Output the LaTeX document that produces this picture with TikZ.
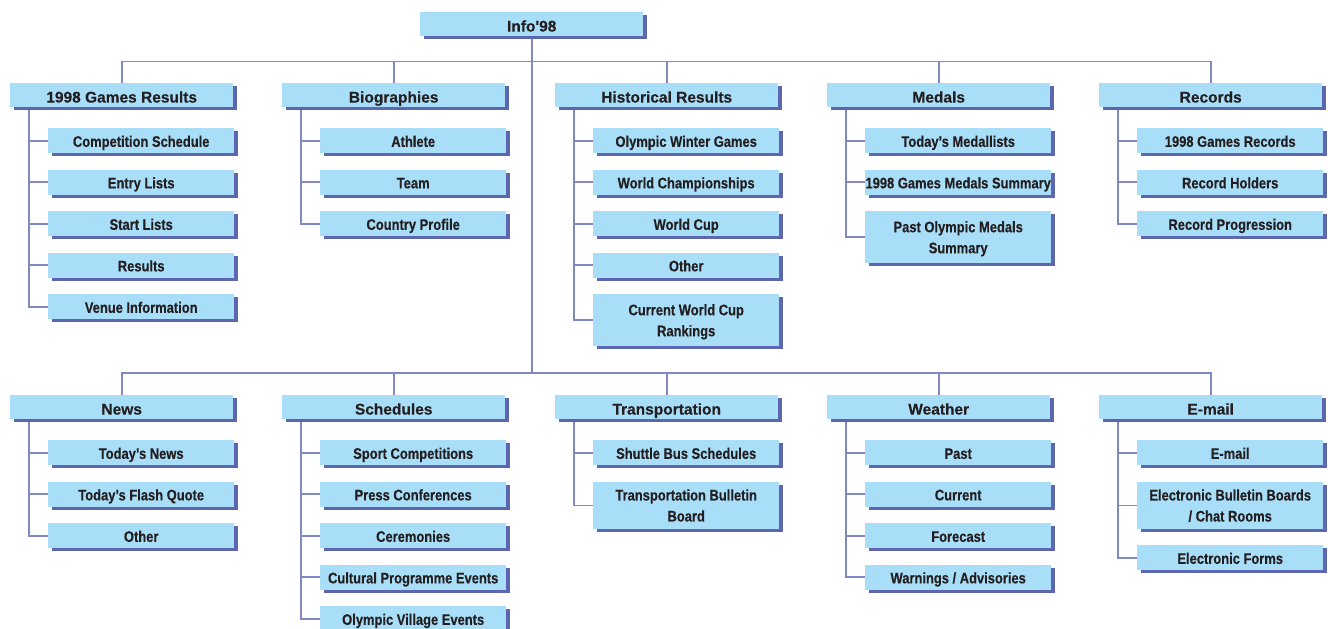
\documentclass[tikz,border=0pt]{standalone}
\usepackage{fontspec}
\setmainfont{Liberation Sans}
\newfontfamily\headsans{Liberation Sans}[FakeBold=0.25]
\newfontfamily\narrowsans{Liberation Sans}[FakeStretch=0.845,FakeBold=0.3]
\usetikzlibrary{calc,shadows,backgrounds}

\definecolor{boxfill}{HTML}{A9DEF9}
\definecolor{boxshade}{HTML}{5D67B1}
\definecolor{wirec}{HTML}{8188C4}
\definecolor{ink}{HTML}{231F20}

% a straight apostrophe, set as the glyph itself
\newcommand\upquote{\XeTeXglyph\XeTeXcharglyph"0027\relax}

\tikzset{
  basebox/.style={fill=boxfill, text=ink, inner sep=0pt, anchor=north west,
    align=center,
    drop shadow={shadow xshift=3.5pt, shadow yshift=-3pt, fill=boxshade, opacity=1}},
  hdr/.style={basebox, minimum width=223pt, minimum height=24pt,
    text height=15pt, text depth=0.3pt,
    font=\headsans\fontsize{15.5}{21}\selectfont\bfseries},
  kidtwo/.style={basebox, minimum width=186pt, text depth=0pt,
    font=\narrowsans\fontsize{15.3}{21}\selectfont\bfseries},
  kid/.style={kidtwo, minimum height=25pt, text height=13pt, text depth=0.7pt},
  wire/.style={draw=wirec, line width=1.6pt}
}

% one-line child item: name, left x, top y, label
\newcommand\kidbox[4]{\node[kid] (#1) at (#2,#3) {#4};}
% two-line child item: name, left x, top y, height, label
\newcommand\kidboxtwo[5]{\node[kidtwo, minimum height=#4pt] (#1) at (#2,#3) {#5};}
% connector from a heading down its branch line to a child
\newcommand\hang[2]{\draw[wire] ($(#1.south west)+(19pt,0pt)$) |- (#2.west);}

\begin{document}
\begin{tikzpicture}[x=1pt,y=-1pt]
\useasboundingbox (0,0) rectangle (1328,629);

% root
\node[hdr] (info) at (420,12) {Info\upquote98};

% upper headings
\node[hdr] (gr)  at (10,83)   {1998 Games Results};
\node[hdr] (bio) at (282,83)  {Biographies};
\node[hdr] (his) at (555,83)  {Historical Results};
\node[hdr] (med) at (827,83)  {Medals};
\node[hdr] (rec) at (1099,83) {Records};

% lower headings
\node[hdr] (nws) at (10,395)   {News};
\node[hdr] (sch) at (282,395)  {Schedules};
\node[hdr] (trn) at (555,395)  {Transportation};
\node[hdr] (wea) at (827,395)  {Weather};
\node[hdr] (eml) at (1099,395) {E-mail};

% 1998 Games Results
\kidbox{gr1}{48}{128}{Competition Schedule}
\kidbox{gr2}{48}{169.5}{Entry Lists}
\kidbox{gr3}{48}{211}{Start Lists}
\kidbox{gr4}{48}{252.5}{Results}
\kidbox{gr5}{48}{294}{Venue Information}

% Biographies
\kidbox{bio1}{320}{128}{Athlete}
\kidbox{bio2}{320}{169.5}{Team}
\kidbox{bio3}{320}{211}{Country Profile}

% Historical Results
\kidbox{his1}{593}{128}{Olympic Winter Games}
\kidbox{his2}{593}{169.5}{World Championships}
\kidbox{his3}{593}{211}{World Cup}
\kidbox{his4}{593}{252.5}{Other}
\kidboxtwo{his5}{593}{294}{52}{Current World Cup\\Rankings}

% Medals
\kidbox{med1}{865}{128}{Today’s Medallists}
\kidbox{med2}{865}{169.5}{1998 Games Medals Summary}
\kidboxtwo{med3}{865}{211}{52}{Past Olympic Medals\\Summary}

% Records
\kidbox{rec1}{1137}{128}{1998 Games Records}
\kidbox{rec2}{1137}{169.5}{Record Holders}
\kidbox{rec3}{1137}{211}{Record Progression}

% News
\kidbox{nws1}{48}{440}{Today’s News}
\kidbox{nws2}{48}{481.5}{Today’s Flash Quote}
\kidbox{nws3}{48}{523}{Other}

% Schedules
\kidbox{sch1}{320}{440}{Sport Competitions}
\kidbox{sch2}{320}{481.5}{Press Conferences}
\kidbox{sch3}{320}{523}{Ceremonies}
\kidbox{sch4}{320}{564.5}{Cultural Programme Events}
\kidbox{sch5}{320}{606}{Olympic Village Events}

% Transportation
\kidbox{trn1}{593}{440}{Shuttle Bus Schedules}
\kidboxtwo{trn2}{593}{481.5}{47.5}{Transportation Bulletin\\Board}

% Weather
\kidbox{wea1}{865}{440}{Past}
\kidbox{wea2}{865}{481.5}{Current}
\kidbox{wea3}{865}{523}{Forecast}
\kidbox{wea4}{865}{564.5}{Warnings / Advisories}

% E-mail
\kidbox{eml1}{1137}{440}{E-mail}
\kidboxtwo{eml2}{1137}{481.5}{47.5}{Electronic Bulletin Boards\\/ Chat Rooms}
\kidbox{eml3}{1137}{545}{Electronic Forms}

\begin{pgfonlayer}{background}
  % trunk and the two buses
  \coordinate (busT) at (0,61.5);
  \coordinate (busB) at (0,373);
  \draw[wire] (info.south) -- (info.south |- busB);
  \draw[wire] (gr.north) -- (gr.north |- busT) -- (rec.north |- busT) -- (rec.north);
  \foreach \h in {bio,his,med} {\draw[wire] (\h.north) -- (\h.north |- busT);}
  \draw[wire] (nws.north) -- (nws.north |- busB) -- (eml.north |- busB) -- (eml.north);
  \foreach \h in {sch,trn,wea} {\draw[wire] (\h.north) -- (\h.north |- busB);}

  % branches
  \foreach \k in {1,...,5} {\hang{gr}{gr\k}}
  \foreach \k in {1,...,3} {\hang{bio}{bio\k}}
  \foreach \k in {1,...,5} {\hang{his}{his\k}}
  \foreach \k in {1,...,3} {\hang{med}{med\k}}
  \foreach \k in {1,...,3} {\hang{rec}{rec\k}}
  \foreach \k in {1,...,3} {\hang{nws}{nws\k}}
  \foreach \k in {1,...,5} {\hang{sch}{sch\k}}
  \foreach \k in {1,2} {\hang{trn}{trn\k}}
  \foreach \k in {1,...,4} {\hang{wea}{wea\k}}
  \foreach \k in {1,...,3} {\hang{eml}{eml\k}}
\end{pgfonlayer}
\end{tikzpicture}
\end{document}
